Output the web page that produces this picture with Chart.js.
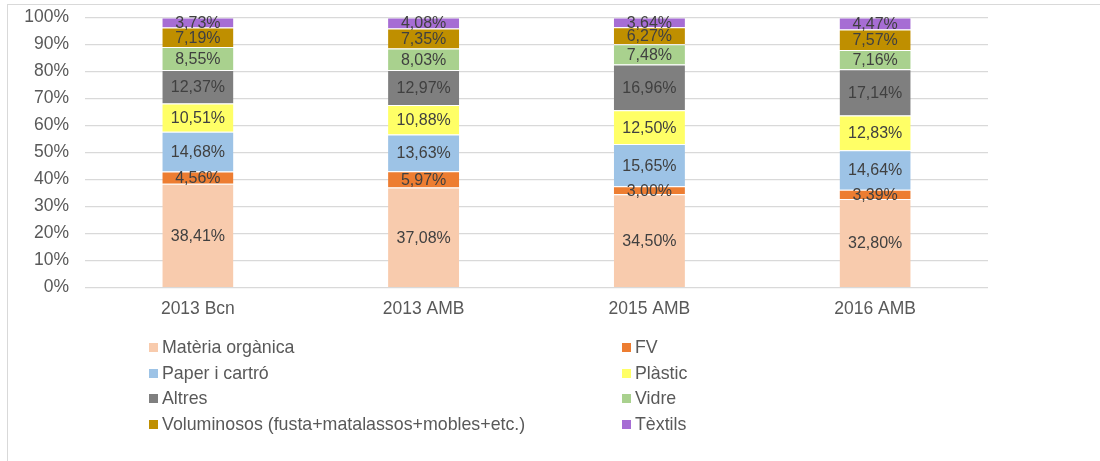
<!DOCTYPE html>
<html>
<head>
<meta charset="utf-8">
<script src="https://cdn.jsdelivr.net/npm/chart.js@4"></script>
<style>
  html, body { margin: 0; padding: 0; background: #fff; }
  body { width: 1100px; height: 461px; overflow: hidden; position: relative; font-family: "Liberation Sans", Arial, sans-serif; }
  .frame { position: absolute; left: 7px; top: 4px; width: 1200px; height: 600px; border: 1.5px solid #d9d9d9; box-sizing: border-box; }
  .wrap { position: absolute; left: 0; top: 0; width: 1100px; height: 461px; }
  .legend { position: absolute; left: 0; top: 0; }
  .lg-item { position: absolute; height: 20px; line-height: 20px; font-size: 17.8px; color: #595959; white-space: nowrap; transform: translateY(-50%); }
  .lg-box { position: absolute; left: 0; top: 6px; width: 9px; height: 9px; }
  .lg-text { position: absolute; left: 13px; top: 0; }
</style>
</head>
<body>
<div class="frame"></div>
<div class="wrap"><canvas id="chart" width="1100" height="461"></canvas></div>
<div class="legend" id="legend"></div>

<script>
/* ── Data ─────────────────────────────────────────────────── */
const categories = ['2013 Bcn', '2013 AMB', '2015 AMB', '2016 AMB'];

const seriesNames = [
  'Matèria orgànica', 'FV', 'Paper i cartró', 'Plàstic',
  'Altres', 'Vidre', 'Voluminosos (fusta+matalassos+mobles+etc.)', 'Tèxtils'
];
const seriesColors = [
  '#F8CBAD', '#ED7D31', '#9DC3E6', '#FFFF66',
  '#7F7F7F', '#A9D18E', '#BF8F00', '#A66DD4'
];

const materiaOrganica = [38.41, 37.08, 34.50, 32.80];
const fv              = [4.56, 5.97, 3.00, 3.39];
const paperCartro     = [14.68, 13.63, 15.65, 14.64];
const plastic         = [10.51, 10.88, 12.50, 12.83];
const altres          = [12.37, 12.97, 16.96, 17.14];
const vidre           = [8.55, 8.03, 7.48, 7.16];
const voluminosos     = [7.19, 7.35, 6.27, 7.57];
const textils         = [3.73, 4.08, 3.64, 4.47];

const seriesValues = [materiaOrganica, fv, paperCartro, plastic, altres, vidre, voluminosos, textils];

const yTicks = [0, 10, 20, 30, 40, 50, 60, 70, 80, 90, 100];

/* ── Helpers ──────────────────────────────────────────────── */
function fmt(v) {
  return v.toFixed(2).replace('.', ',') + '%';
}

/* ── Segment labels plugin ────────────────────────────────── */
const segLabels = {
  id: 'segLabels',
  afterDatasetsDraw(chart) {
    const ctx = chart.ctx;
    ctx.save();
    ctx.font = '16px "Liberation Sans", Arial, sans-serif';
    ctx.fillStyle = '#404040';
    ctx.textAlign = 'center';
    ctx.textBaseline = 'middle';
    chart.data.datasets.forEach((ds, di) => {
      const meta = chart.getDatasetMeta(di);
      meta.data.forEach((bar, i) => {
        const p = bar.getProps(['x', 'y', 'base'], true);
        ctx.fillText(fmt(ds.data[i]), p.x, (p.y + p.base) / 2 + 1);
      });
    });
    ctx.restore();
  }
};

/* ── Chart ────────────────────────────────────────────────── */
const datasets = seriesNames.map((name, i) => ({
  label: name,
  data: seriesValues[i],
  backgroundColor: seriesColors[i],
  borderColor: '#ffffff',
  borderWidth: { top: 1, bottom: 0, left: 0, right: 0 },
  borderSkipped: false,
  categoryPercentage: 1,
  barPercentage: 0.315
}));

new Chart(document.getElementById('chart').getContext('2d'), {
  type: 'bar',
  data: { labels: categories, datasets },
  plugins: [segLabels],
  options: {
    responsive: false,
    animation: false,
    layout: { padding: { left: 0, right: 112, top: 17.5, bottom: 0 } },
    plugins: { legend: { display: false }, tooltip: { enabled: false } },
    scales: {
      x: {
        stacked: true,
        grid: { display: false, drawTicks: false },
        border: { display: false },
        ticks: { color: '#595959', padding: 11, font: { family: 'Liberation Sans', size: 17.5 } },
        afterFit(scale) { scale.height = 173.5; scale.paddingLeft = 0; scale.paddingRight = 0; }
      },
      y: {
        stacked: true,
        min: 0,
        max: 100,
        afterBuildTicks(scale) { scale.ticks = yTicks.map(v => ({ value: v })); },
        grid: { color: '#D9D9D9', lineWidth: 1.2, drawTicks: false },
        border: { display: false },
        ticks: {
          color: '#595959', padding: 16,
          font: { family: 'Liberation Sans', size: 17.5 },
          callback: v => v + '%'
        },
        afterFit(scale) { scale.width = 85; scale.paddingTop = 0; scale.paddingBottom = 0; }
      }
    }
  }
});

/* ── Legend (two columns, like the original) ──────────────── */
const legendCols = [149, 622];
const legendRows = [347, 372.5, 398, 423.5];
const legend = document.getElementById('legend');
seriesNames.forEach((name, i) => {
  const item = document.createElement('div');
  item.className = 'lg-item';
  item.style.left = legendCols[i % 2] + 'px';
  item.style.top = legendRows[Math.floor(i / 2)] + 'px';
  item.innerHTML = '<span class="lg-box" style="background:' + seriesColors[i] + '"></span>' +
                   '<span class="lg-text">' + name + '</span>';
  legend.appendChild(item);
});
</script>
</body>
</html>
